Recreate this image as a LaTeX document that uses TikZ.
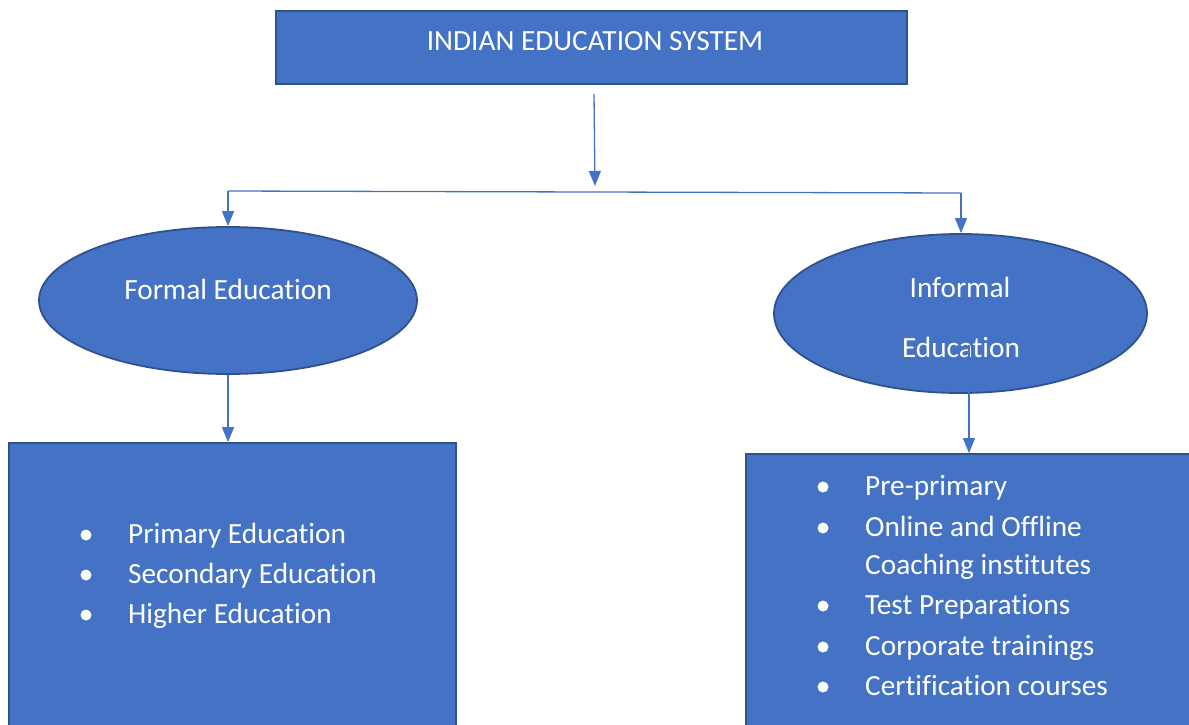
\documentclass[tikz,border=0pt]{standalone}
\usepackage{fontspec}
\setmainfont{Carlito}[Ligatures=NoCommon]
\usetikzlibrary{shapes.geometric,arrows.meta}
\definecolor{boxfill}{HTML}{4472C4}
\definecolor{boxline}{HTML}{2F528F}
\begin{document}
\begin{tikzpicture}[x=1pt,y=-1pt,
  shapebox/.style={draw=boxline,fill=boxfill,line width=1.8pt,inner sep=0pt},
  txt/.style={text=white,font=\fontsize{29.3}{35}\selectfont,inner sep=0pt},
  arr/.style={draw=boxfill,line width=1.3pt,-{Triangle[length=15pt,width=12pt]}},
  link/.style={draw=boxfill,line width=1.3pt},
  dot/.style={circle,fill=white,draw=none,inner sep=0pt,minimum size=11pt}]
\useasboundingbox (0,0) rectangle (1189,724);

% title box
\node[shapebox,minimum width=631pt,minimum height=73pt] (top) at (591.5,47.5) {};
\node[txt,anchor=base] (toptext) at (595,50) {INDIAN EDUCATION SYSTEM};

% the two branches
\node[shapebox,ellipse,minimum width=378pt,minimum height=147pt] (formal) at (228,300.5) {};
\node[txt,anchor=base] (formaltext) at (228,299) {Formal Education};
\node[shapebox,ellipse,minimum width=373pt,minimum height=159pt] (informal) at (960.5,313.5) {};
\node[txt,anchor=base] (inftext1) at (960,297) {Informal};
\node[txt,anchor=base] (inftext2) at (961,357) {Education};

% list boxes (running off the bottom of the page)
\node[shapebox,minimum width=447pt,minimum height=317pt] (formalbox) at (232.5,601.5) {};
\node[shapebox,minimum width=454pt,minimum height=306pt] (infbox) at (973,607) {};

% formal list
\node[dot] (fd1) at (86,535) {};
\node[dot] (fd2) at (86,575) {};
\node[dot] (fd3) at (86,615) {};
\node[txt,anchor=base west] (fl1) at (128,543) {Primary Education};
\node[txt,anchor=base west] (fl2) at (128,583) {Secondary Education};
\node[txt,anchor=base west] (fl3) at (128,623) {Higher Education};

% informal list
\node[dot] (id1) at (823,487) {};
\node[dot] (id2) at (823,528) {};
\node[dot] (id3) at (823,606) {};
\node[dot] (id4) at (823,647) {};
\node[dot] (id5) at (823,687) {};
\node[txt,anchor=base west] (il1) at (865,495) {Pre-primary};
\node[txt,anchor=base west] (il2) at (865,536) {Online and Offline};
\node[txt,anchor=base west] (il2b) at (865,574) {Coaching institutes};
\node[txt,anchor=base west] (il3) at (865,614) {Test Preparations};
\node[txt,anchor=base west] (il4) at (865,655) {Corporate trainings};
\node[txt,anchor=base west] (il5) at (865,695) {Certification courses};

% connectors
\coordinate (j) at (595,186);
\coordinate (hl) at (228,191);
\coordinate (hr) at (961,193);
\draw[arr] ([xshift=2.5pt,yshift=-9pt]top.south) -- (j);
\draw[link] (hl) -- (hr);
\draw[arr] (hl) -- (formal.north);
\draw[arr] (hr) -- (hr |- informal.north);
\draw[arr] (formal.south) -- (formal.south |- formalbox.north);
\draw[arr] ([xshift=8.5pt,yshift=-31.5pt]informal.center) -- ([xshift=8.5pt]informal.center |- infbox.north);
\end{tikzpicture}
\end{document}
